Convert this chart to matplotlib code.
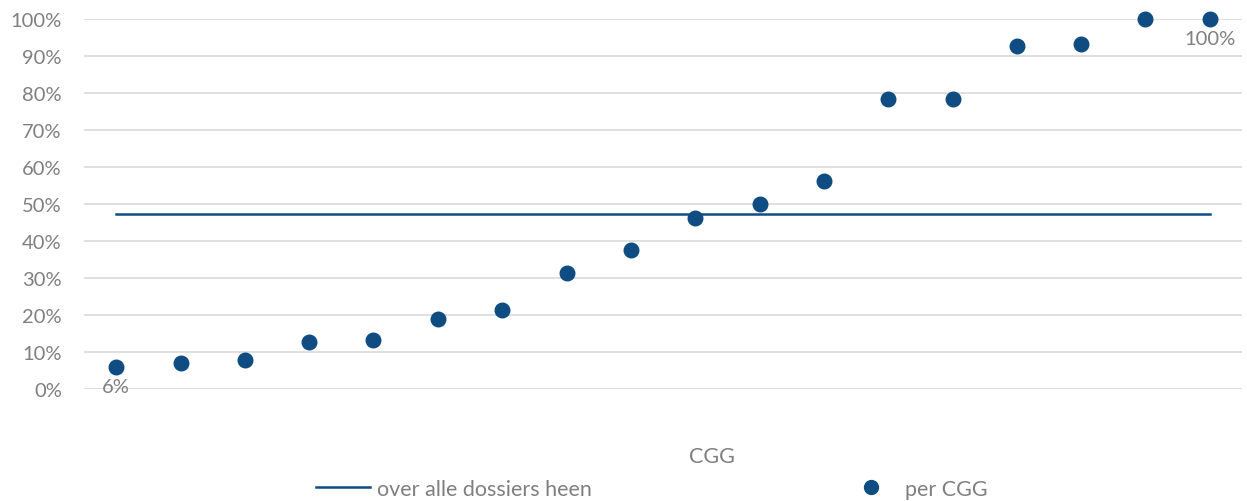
import matplotlib
matplotlib.use("Agg")
import matplotlib.pyplot as plt
from matplotlib.lines import Line2D

plt.rcParams['font.family'] = ['Lato', 'DejaVu Sans']

positions = list(range(1, 19))
per_cgg = [0.06, 0.07, 0.078, 0.127, 0.133, 0.19, 0.214, 0.314, 0.376, 0.463,
           0.50, 0.562, 0.785, 0.785, 0.927, 0.933, 1.00, 1.00]
overall = 0.473
yticks = [i / 10 for i in range(11)]
ytick_labels = [f"{i*10}%" for i in range(11)]

blue = "#0F4C81"
gray = "#7F7F7F"
fs = 14.5
lfs = 15.5

fig = plt.figure(figsize=(12.47, 5.02), dpi=100)
ax = fig.add_axes([84/1247, (502-390)/502, (1242-84)/1247, 370/502])
ax.set_xlim(0.5, 18.5)
ax.set_ylim(0, 1)

ax.set_yticks(yticks)
ax.set_yticklabels(ytick_labels)
ax.set_xticks([])
for y in yticks:
    ax.axhline(y, color="#D9D9D9", lw=1.2, zorder=0)
for s in ax.spines.values():
    s.set_visible(False)
ax.tick_params(axis='y', length=0, pad=16, labelsize=fs, labelcolor=gray)

ax.plot([positions[0], positions[-1]], [overall, overall], color=blue, lw=1.8, zorder=2)
ax.scatter(positions, per_cgg, s=110, color=blue, zorder=3, clip_on=False)

ax.annotate(f"{per_cgg[0]*100:.0f}%", (positions[0], per_cgg[0]), xytext=(0, -8),
            textcoords="offset points", ha="center", va="top", fontsize=fs, color=gray)
ax.annotate(f"{per_cgg[-1]*100:.0f}%", (positions[-1], per_cgg[-1]), xytext=(0, -8),
            textcoords="offset points", ha="center", va="top", fontsize=fs, color=gray)

fig.text(712/1247, 1 - 457/502, "CGG", ha="center", va="center", fontsize=lfs, color=gray)

handles = [Line2D([0], [0], color=blue, lw=1.8),
           Line2D([0], [0], marker='o', color='none', markerfacecolor=blue,
                  markeredgecolor=blue, markersize=10)]
fig.legend(handles, ["over alle dossiers heen", "per CGG"], loc="center",
           bbox_to_anchor=(652/1247, 1 - 490/502), ncol=2, frameon=False,
           fontsize=lfs, labelcolor=gray, columnspacing=11.7, handlelength=2.5,
           handletextpad=0.33)

fig.savefig("out.png", dpi=100)
